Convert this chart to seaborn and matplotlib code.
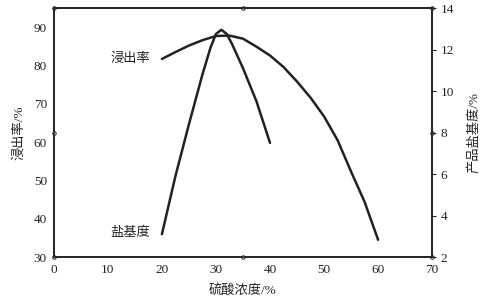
import matplotlib
matplotlib.use("Agg")
import matplotlib.pyplot as plt
import seaborn as sns
import pandas as pd

sns.set_theme(style="white")
plt.rcParams['font.family'] = ['Liberation Serif', 'Noto Sans CJK SC']
plt.rcParams['axes.unicode_minus'] = False

# Leaching rate (left axis, %)
leach_x = [20, 22.5, 25, 27.5, 30, 32.5, 35, 37.5, 40, 42.5, 45, 47.5, 50, 52.5, 55, 57.5, 60]
leach_y = [81.7, 83.5, 85.2, 86.6, 87.7, 87.8, 87.0, 84.9, 82.6, 79.6, 75.8, 71.6, 66.7, 60.5, 52.3, 44.4, 34.5]

# Product basicity (right axis, %)
basic_x = [20, 22.5, 25, 27.5, 29, 30, 31, 32, 33, 35, 37.5, 40]
basic_y = [3.1, 5.9, 8.4, 10.8, 12.1, 12.75, 12.95, 12.75, 12.25, 11.1, 9.5, 7.5]

x_ticks = [0, 10, 20, 30, 40, 50, 60, 70]
left_ticks = [30, 40, 50, 60, 70, 80, 90]
right_ticks = [2, 4, 6, 8, 10, 12, 14]

df_l = pd.DataFrame({"x": leach_x, "y": leach_y})
df_b = pd.DataFrame({"x": basic_x, "y": basic_y})

fig = plt.figure(figsize=(4.85, 3.04), dpi=100)
ax = fig.add_axes([0.111, 0.1546, 0.78, 0.819])
ax2 = ax.twinx()

sns.lineplot(data=df_l, x="x", y="y", ax=ax, color="#222222", lw=1.8, sort=True)
sns.lineplot(data=df_b, x="x", y="y", ax=ax2, color="#222222", lw=1.8, sort=True)

ax.set_xlim(0, 70)
ax.set_ylim(30, 95)
ax2.set_ylim(2, 14)
ax.set_xticks(x_ticks)
ax.set_yticks(left_ticks)
ax2.set_yticks(right_ticks)

fs = 9.5
ax.tick_params(axis='both', labelsize=fs, length=0, pad=5, colors="#222222")
ax2.tick_params(axis='y', labelsize=fs, length=3, width=0.8, pad=3, colors="#222222", direction='out')
ax.set_xlabel("硫酸浓度/%", fontsize=fs, labelpad=6, color="#222222")
ax.set_ylabel("浸出率/%", fontsize=fs, labelpad=6, color="#222222")
ax2.set_ylabel("产品盐基度/%", fontsize=fs, labelpad=10, color="#222222")

for a in (ax, ax2):
    for s in a.spines.values():
        s.set_color("#222222")
        s.set_linewidth(1.2)
    a.grid(False)

# small open circles at spine midpoints / corners (as in reference)
for (px, py) in [(0, 0.5), (0.5, 0), (0.5, 1), (1, 0.5), (0, 1), (1, 1), (0, 0), (1, 0)]:
    ax.plot(px, py, marker='o', ms=2.5, mfc='white', mec='#222222', mew=0.7,
            transform=ax.transAxes, clip_on=False, zorder=5)

ax.text(14.1, 81.7, "浸出率", fontsize=fs, ha='center', va='center', color="#222222")
ax.text(14.1, 36.3, "盐基度", fontsize=fs, ha='center', va='center', color="#222222")

fig.savefig("out.png", dpi=100)
